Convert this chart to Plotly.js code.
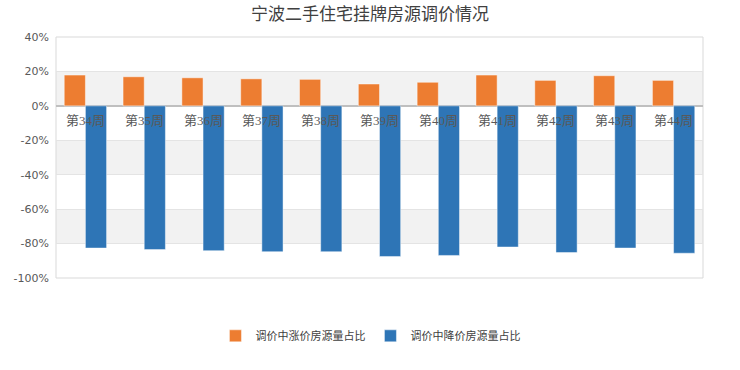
<!DOCTYPE html>
<html><head><meta charset="utf-8">
<script src="https://cdn.plot.ly/plotly-3.0.1.min.js"></script>
<style>html,body{margin:0;padding:0;background:#fff}#chart{width:740px;height:370px}</style>
</head><body><div id="chart"></div>
<script>
var categories = ["第34周","第35周","第36周","第37周","第38周","第39周","第40周","第41周","第42周","第43周","第44周"];
var riseShare = [17.9, 16.9, 16.3, 15.7, 15.4, 12.7, 13.7, 17.9, 14.8, 17.5, 14.8];
var fallShare = [-82.6, -83.5, -84.1, -84.7, -84.7, -87.5, -86.9, -82.0, -85.2, -82.6, -85.6];
var seriesNames = ["调价中涨价房源量占比","调价中降价房源量占比"];
var tickVals = [40, 20, 0, -20, -40, -60, -80, -100];
var tickText = ["40%","20%","0%","-20%","-40%","-60%","-80%","-100%"];
var bandRanges = [[0,20],[-40,-20],[-80,-60]];

var traces = [
  {type:'bar', x:categories, y:riseShare, name:seriesNames[0],
   marker:{color:'#ED7D31', line:{color:'rgba(255,255,255,0.45)', width:1}}, hoverinfo:'none'},
  {type:'bar', x:categories, y:fallShare, name:seriesNames[1],
   marker:{color:'#2E75B6', line:{color:'rgba(255,255,255,0.45)', width:1}}, hoverinfo:'none'}
];

var shapes = bandRanges.map(function(r){
  return {type:'rect', xref:'paper', yref:'y', x0:0, x1:1, y0:r[0], y1:r[1],
          fillcolor:'#f2f2f2', line:{width:0}, layer:'below'};
});
shapes.push({type:'rect', xref:'paper', yref:'paper', x0:0, x1:1, y0:0, y1:1,
             line:{color:'#d9d9d9', width:1}, fillcolor:'rgba(0,0,0,0)', layer:'below'});

var annotations = categories.map(function(c){
  return {x:c, y:0, xref:'x', yref:'y', text:c, showarrow:false, yanchor:'top', yshift:-5,
          font:{family:'"Liberation Serif","Noto Sans CJK SC",serif', size:13, color:'#595959'}};
});

var layout = {
  width:740, height:370,
  margin:{l:56, r:37, t:37, b:92},
  paper_bgcolor:'#fff', plot_bgcolor:'#fff',
  title:{text:'宁波二手住宅挂牌房源调价情况', x:0.5, xanchor:'center', y:0.962, yanchor:'middle',
         font:{family:'"Noto Sans CJK SC",sans-serif', size:17, color:'#404040'}},
  barmode:'group', bargap:0.28, bargroupgap:0,
  xaxis:{showticklabels:false, showgrid:false, zeroline:false, showline:false, ticks:''},
  yaxis:{range:[-100,40], tickvals:tickVals, ticktext:tickText, showgrid:true, gridcolor:'#e4e4e4', gridwidth:1,
         zeroline:true, zerolinecolor:'#bfbfbf', zerolinewidth:1.5, showline:false, ticks:'',
         ticklabelstandoff:6,
         tickfont:{family:'"DejaVu Sans",sans-serif', size:11, color:'#595959'}},
  showlegend:true,
  legend:{orientation:'h', x:0.486, xanchor:'center', y:-0.24, yanchor:'middle',
          font:{family:'"Noto Sans CJK SC",sans-serif', size:11, color:'#404040'}, itemwidth:30, tracegroupgap:0},
  shapes:shapes,
  annotations:annotations
};
Plotly.newPlot('chart', traces, layout, {staticPlot:true, displayModeBar:false});
</script>
</body></html>
